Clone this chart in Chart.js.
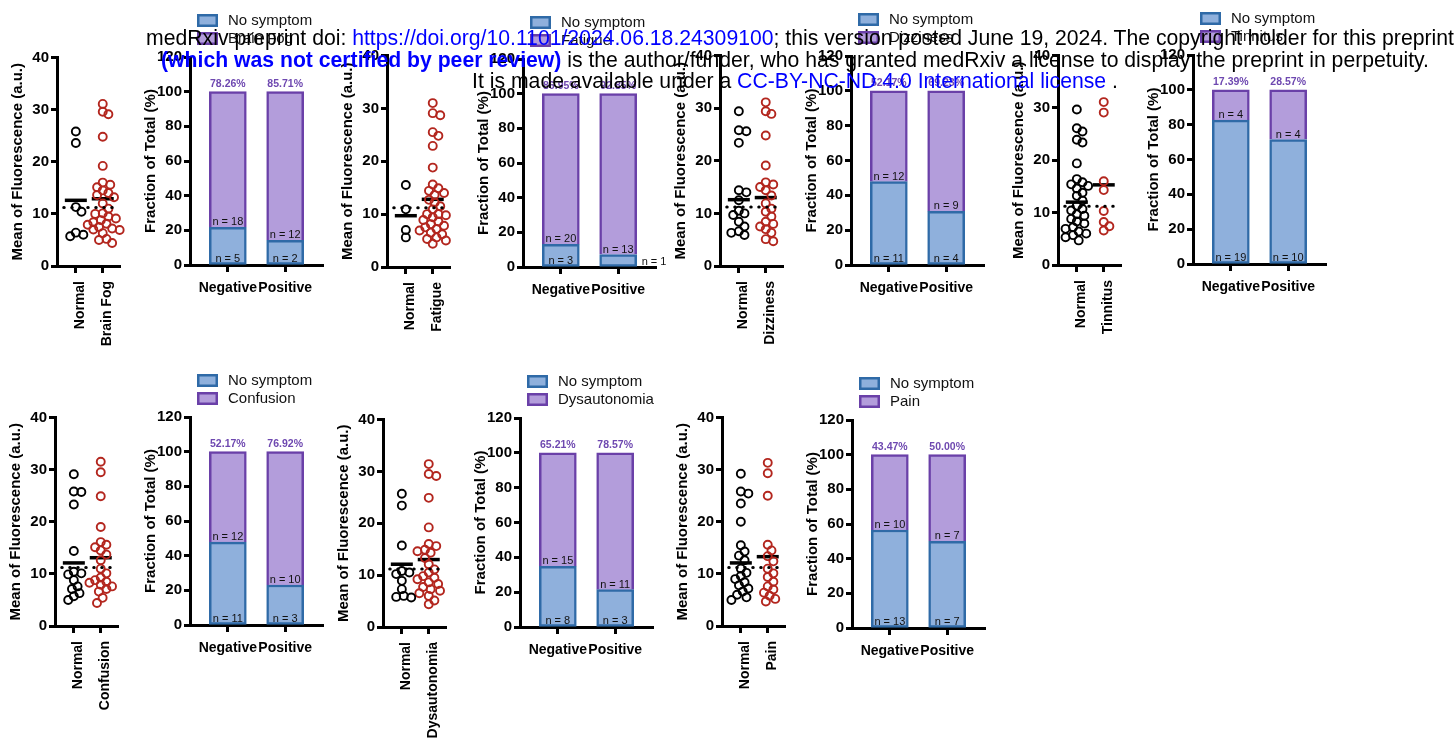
<!DOCTYPE html>
<html>
<head>
<meta charset="utf-8">
<script src="https://cdn.jsdelivr.net/npm/chart.js@4.4.0/dist/chart.umd.min.js"></script>
<style>
  body { margin: 0; background: #fff; width: 1456px; height: 751px; position: relative; overflow: hidden;
         font-family: 'Liberation Sans', Arial, sans-serif; }
  canvas { position: absolute; }
  .hdr { position: absolute; white-space: nowrap; font-size: 21.2px; color: #000; z-index: 5;
         transform: translateX(-50%); line-height: 22px; }
  .blue { color: #0000ff; }
</style>
</head>
<body>
<div class="hdr" style="left:800px;top:27px">medRxiv preprint doi: <span class="blue">https://doi.org/10.1101/2024.06.18.24309100</span>; this version posted June 19, 2024. The copyright holder for this preprint</div>
<div class="hdr" style="left:795px;top:49px"><b class="blue">(which was not certified by peer review)</b> is the author/funder, who has granted medRxiv a license to display the preprint in perpetuity.</div>
<div class="hdr" style="left:795px;top:70px">It is made available under a <span class="blue">CC-BY-NC-ND 4.0 International license</span> .</div>

<script>
// group names
var groupLabels = ['Negative', 'Positive'];
var referenceLevel = 11.2;

// Brain Fog
var brainFogNormal = [25.8, 23.6, 11.3, 10.4, 6.4, 6.0, 5.7];
var brainFogSymptom = [31.1, 29.6, 29.1, 24.8, 19.2, 16.0, 15.6, 15.1, 14.5, 14.0, 13.6, 13.2, 12.0, 11.0, 10.1,
                       10.0, 9.5, 9.1, 8.8, 8.4, 8.1, 7.9, 7.5, 7.2, 7.0, 6.9, 6.3, 5.2, 5.0, 4.4];
var brainFogMeans = [12.6, 12.9];
var brainFogNoSymN = [5, 2];
var brainFogSymN = [18, 12];
var brainFogPct = ['78.26%', '85.71%'];

// Fatigue
var fatigueNormal = [15.5, 10.9, 7.0, 5.6];
var fatigueSymptom = [31.0, 29.1, 28.7, 25.5, 24.8, 22.9, 18.8, 15.6, 14.9, 14.4, 14.0, 13.6, 12.7, 12.2, 11.5,
                      10.9, 10.0, 10.0, 9.8, 9.4, 8.9, 8.6, 8.1, 7.8, 7.5, 7.2, 6.9, 6.5, 6.2, 5.6, 5.3, 5.0, 4.4];
var fatigueMeans = [9.7, 12.8];
var fatigueNoSymN = [3, 1];
var fatigueSymN = [20, 13];
var fatiguePct = ['86.95%', '92.85%'];

// Dizziness
var dizzinessNormal = [29.4, 25.8, 25.6, 23.4, 14.4, 14.0, 12.5, 10.5, 10.0, 9.7, 8.4, 7.5, 6.6, 6.3, 5.9];
var dizzinessSymptom = [31.1, 29.4, 28.9, 24.8, 19.1, 15.9, 15.5, 15.0, 14.4, 13.4, 11.9, 10.9, 10.3, 9.4, 8.4,
                        8.0, 7.5, 7.0, 6.3, 5.1, 4.7];
var dizzinessMeans = [12.6, 13.0];
var dizzinessNoSymN = [11, 4];
var dizzinessSymN = [12, 9];
var dizzinessPct = ['52.17%', '69.23%'];

// Tinnitus
var tinnitusNormal = [29.7, 26.1, 25.5, 23.9, 23.4, 19.4, 16.4, 15.8, 15.4, 15.1, 14.6, 13.8, 13.2, 12.3, 11.3,
                      10.7, 10.4, 9.7, 9.4, 8.8, 8.3, 7.9, 7.2, 6.9, 6.4, 6.0, 5.7, 5.3, 4.7];
var tinnitusSymptom = [31.1, 29.1, 16.0, 14.3, 10.3, 8.2, 7.4, 6.6];
var tinnitusMeans = [12.0, 15.3];
var tinnitusNoSymN = [19, 10];
var tinnitusSymN = [4, 4];
var tinnitusPct = ['17.39%', '28.57%'];

// Confusion
var confusionNormal = [29.1, 25.8, 25.7, 23.3, 14.4, 10.4, 10.1, 9.9, 8.8, 7.6, 7.1, 6.3, 5.7, 5.0];
var confusionSymptom = [31.5, 29.5, 24.9, 19.0, 16.1, 15.6, 15.1, 14.5, 13.7, 12.6, 11.0, 10.1, 9.3, 8.8, 8.5,
                        8.3, 7.9, 7.6, 7.1, 6.6, 5.4, 4.4];
var confusionMeans = [12.1, 13.1];
var confusionNoSymN = [11, 3];
var confusionSymN = [12, 10];
var confusionPct = ['52.17%', '76.92%'];

// Dysautonomia
var dysautonomiaNormal = [25.7, 23.4, 15.7, 10.8, 10.5, 10.2, 8.9, 7.3, 6.0, 5.8, 5.7];
var dysautonomiaSymptom = [31.4, 29.5, 29.1, 24.9, 19.2, 16.0, 15.6, 14.9, 14.6, 14.3, 13.3, 12.1, 11.1, 10.5,
                           9.8, 9.5, 9.2, 8.6, 8.3, 7.7, 7.3, 7.0, 6.5, 6.0, 5.1, 4.4];
var dysautonomiaMeans = [12.1, 13.0];
var dysautonomiaNoSymN = [8, 3];
var dysautonomiaSymN = [15, 11];
var dysautonomiaPct = ['65.21%', '78.57%'];

// Pain
var painNormal = [29.2, 25.8, 25.4, 23.5, 20.0, 15.5, 14.3, 13.5, 12.6, 11.0, 10.2, 9.6, 9.0, 8.4, 7.8, 7.2,
                  6.6, 6.0, 5.5, 5.0];
var painSymptom = [31.3, 29.3, 25.0, 15.6, 14.5, 13.4, 12.4, 11.0, 10.1, 9.4, 8.5, 7.6, 7.0, 6.4, 5.8, 5.2, 4.7];
var painMeans = [12.1, 13.3];
var painNoSymN = [13, 7];
var painSymN = [10, 7];
var painPct = ['43.47%', '50.00%'];

var panels = [
  {name: 'Brain Fog', normal: brainFogNormal, sym: brainFogSymptom, means: brainFogMeans, noN: brainFogNoSymN, symN: brainFogSymN, pct: brainFogPct},
  {name: 'Fatigue', normal: fatigueNormal, sym: fatigueSymptom, means: fatigueMeans, noN: fatigueNoSymN, symN: fatigueSymN, pct: fatiguePct},
  {name: 'Dizziness', normal: dizzinessNormal, sym: dizzinessSymptom, means: dizzinessMeans, noN: dizzinessNoSymN, symN: dizzinessSymN, pct: dizzinessPct},
  {name: 'Tinnitus', normal: tinnitusNormal, sym: tinnitusSymptom, means: tinnitusMeans, noN: tinnitusNoSymN, symN: tinnitusSymN, pct: tinnitusPct},
  {name: 'Confusion', normal: confusionNormal, sym: confusionSymptom, means: confusionMeans, noN: confusionNoSymN, symN: confusionSymN, pct: confusionPct},
  {name: 'Dysautonomia', normal: dysautonomiaNormal, sym: dysautonomiaSymptom, means: dysautonomiaMeans, noN: dysautonomiaNoSymN, symN: dysautonomiaSymN, pct: dysautonomiaPct},
  {name: 'Pain', normal: painNormal, sym: painSymptom, means: painMeans, noN: painNoSymN, symN: painSymN, pct: painPct}
];

// where each pair of plots sits on the page (axis x, top/bottom pixel rows)
var layout = [
  {sx: 57, sTop: 55, sBot: 266, bx: 190, bBot: 265, b100: 92},
  {sx: 387, sTop: 53, sBot: 267, bx: 523, bBot: 267, b100: 94},
  {sx: 720, sTop: 53, sBot: 266, bx: 851, bBot: 265, b100: 91},
  {sx: 1058, sTop: 53, sBot: 265, bx: 1193, bBot: 264, b100: 90},
  {sx: 55, sTop: 415, sBot: 626, bx: 190, bBot: 625, b100: 452},
  {sx: 383, sTop: 417, sBot: 627, bx: 520, bBot: 627, b100: 453},
  {sx: 722, sTop: 415, sBot: 626, bx: 852, bBot: 628, b100: 455}
];

var FONT = "'Liberation Sans', Arial, sans-serif";
Chart.defaults.font.family = FONT;
Chart.defaults.color = '#000';

var blueFill = '#8FB0DC', blueLine = '#2F6AA7';
var purpleFill = '#B39DDB', purpleLine = '#6A40A8';
var red = '#B3261E';

function makeCanvas(left, top, w, h) {
  var c = document.createElement('canvas');
  c.width = w; c.height = h;
  c.style.left = left + 'px'; c.style.top = top + 'px';
  c.style.width = w + 'px'; c.style.height = h + 'px';
  document.body.appendChild(c);
  return c;
}

// spread points sideways so circles don't sit on top of each other
function swarm(vals, center, unit, yPx) {
  var placed = [];
  var step = 2.2, minD = 7.0;
  return vals.slice().sort(function(a, b) { return b - a; }).map(function(v) {
    var py = v * yPx;
    for (var k = 0; k < 40; k++) {
      var off = (k % 2 ? 1 : -1) * Math.ceil(k / 2) * step;
      var ok = placed.every(function(p) { return Math.hypot(p.x - off, p.y - py) >= minD; });
      if (ok) { placed.push({x: off, y: py}); return {x: center + off / unit, y: v}; }
    }
    return {x: center, y: v};
  });
}

function axisGrid(len) {
  return {display: true, drawOnChartArea: false, drawTicks: true, tickLength: len, tickWidth: 3, tickColor: '#000'};
}
var axisBorder = {display: true, color: '#000', width: 3};

function scatterPlot(p, pos) {
  var unit = 31.5, xMin = 0.3, xMax = 2.66;
  var YW = 48, PT = 12, PR = 4, XH = 130;
  var yPx = (pos.sBot - pos.sTop) / 40;
  var w = YW + Math.round((xMax - xMin) * unit) + PR;
  var h = PT + (pos.sBot - pos.sTop) + XH;
  var c = makeCanvas(pos.sx - YW, pos.sTop - PT, w, h);
  var cats = ['Normal', p.name];

  new Chart(c.getContext('2d'), {
    type: 'scatter',
    data: {
      datasets: [
        {type: 'line', data: [{x: xMin + 0.25, y: referenceLevel}, {x: xMax - 0.04, y: referenceLevel}],
         borderColor: '#000', borderWidth: 3, borderDash: [0.5, 7.5], borderCapStyle: 'round', pointRadius: 0, fill: false},
        {data: swarm(p.normal, 1, unit, yPx), pointRadius: 4, borderWidth: 1.9, borderColor: '#000',
         backgroundColor: 'rgba(255,255,255,0)', clip: false},
        {data: swarm(p.sym, 2, unit, yPx), pointRadius: 4, borderWidth: 1.9, borderColor: red,
         backgroundColor: 'rgba(255,255,255,0)', clip: false},
        {data: p.means.map(function(m, i) { return {x: i + 1, y: m}; }), pointStyle: 'line', pointRadius: 11,
         borderWidth: 3.5, borderColor: '#000', clip: false}
      ]
    },
    options: {
      responsive: false, animation: false, events: [],
      layout: {padding: {top: PT, right: PR, left: 0, bottom: 0}},
      plugins: {legend: {display: false}, tooltip: {enabled: false}},
      scales: {
        x: {
          type: 'linear', min: xMin, max: xMax,
          afterBuildTicks: function(s) { s.ticks = [{value: 1}, {value: 2}]; },
          afterFit: function(s) { s.height = XH; },
          ticks: {callback: function(v) { return cats[Math.round(v) - 1]; }, minRotation: 90, maxRotation: 90,
                  font: {weight: 'bold', size: 14}, color: '#000', padding: 8, autoSkip: false, labelOffset: 4},
          grid: axisGrid(7), border: axisBorder
        },
        y: {
          min: 0, max: 40,
          afterFit: function(s) { s.width = YW; },
          ticks: {stepSize: 10, font: {weight: 'bold', size: 15}, color: '#000', padding: 2},
          title: {display: true, text: 'Mean of Fluorescence (a.u.)', font: {weight: 'bold', size: 15}, color: '#000',
                  padding: {top: 0, bottom: 0}},
          grid: axisGrid(6), border: axisBorder
        }
      }
    }
  });
}

var barDecor = {
  id: 'barDecor',
  afterDatasetsDraw: function(chart, args, opts) {
    var ctx = chart.ctx;
    var m0 = chart.getDatasetMeta(0), m1 = chart.getDatasetMeta(1);
    var yZero = chart.scales.y.getPixelForValue(0);
    ctx.save();
    m0.data.forEach(function(bar, i) {
      var top = m1.data[i];
      ctx.font = '11px ' + FONT;
      ctx.fillStyle = '#111';
      ctx.textBaseline = 'alphabetic';
      var hgt = yZero - bar.y;
      if (hgt >= 16) {
        ctx.textAlign = 'center';
        ctx.fillText('n = ' + opts.noN[i], bar.x, yZero - 3);
      } else {
        ctx.textAlign = 'left';
        ctx.fillText('n = ' + opts.noN[i], bar.x + bar.width / 2 + 5, yZero - 2);
      }
      ctx.textAlign = 'center';
      ctx.fillText('n = ' + opts.symN[i], bar.x, bar.y - 2);
      ctx.font = 'bold 10.5px ' + FONT;
      ctx.fillStyle = '#6E48B0';
      ctx.fillText(opts.pct[i], bar.x, top.y - 5);
    });
    // legend
    var lx = chart.chartArea.left + 7, ly = chart.chartArea.top - 43;
    chart.data.datasets.forEach(function(ds, k) {
      var y = ly + k * 18;
      ctx.fillStyle = ds.backgroundColor;
      ctx.fillRect(lx, y, 21, 13);
      ctx.lineWidth = 2.5;
      ctx.strokeStyle = ds.borderColor;
      ctx.strokeRect(lx + 1.25, y + 1.25, 18.5, 10.5);
      ctx.fillStyle = '#111';
      ctx.font = '15px ' + FONT;
      ctx.textAlign = 'left';
      ctx.textBaseline = 'middle';
      ctx.fillText(ds.label, lx + 31, y + 7);
    });
    ctx.restore();
  }
};

function barPlot(p, pos) {
  var unit = 57.5, xMin = 0.34, xMax = 2.66;
  var YW = 48, PT = 50, PR = 30, XH = 40;
  var y120 = pos.bBot - 1.2 * (pos.bBot - pos.b100);
  var w = YW + Math.round((xMax - xMin) * unit) + PR;
  var h = Math.round(PT + (pos.bBot - y120) + XH);
  var c = makeCanvas(pos.bx - YW, Math.round(y120 - PT), w, h);
  var noPct = p.noN.map(function(n, i) { return {x: i + 1, y: 100 * n / (n + p.symN[i])}; });
  var symPct = p.symN.map(function(n, i) { return {x: i + 1, y: 100 * n / (n + p.noN[i])}; });

  new Chart(c.getContext('2d'), {
    type: 'bar',
    data: {
      datasets: [
        {label: 'No symptom', data: noPct, backgroundColor: blueFill, borderColor: blueLine, borderWidth: 2.5,
         borderSkipped: false, barThickness: 37},
        {label: p.name, data: symPct, backgroundColor: purpleFill, borderColor: purpleLine, borderWidth: 2.5,
         borderSkipped: 'bottom', barThickness: 37}
      ]
    },
    plugins: [barDecor],
    options: {
      responsive: false, animation: false, events: [],
      layout: {padding: {top: PT, right: PR, left: 0, bottom: 0}},
      plugins: {legend: {display: false}, tooltip: {enabled: false},
                barDecor: {noN: p.noN, symN: p.symN, pct: p.pct}},
      scales: {
        x: {
          type: 'linear', min: xMin, max: xMax, stacked: true, offset: false,
          afterBuildTicks: function(s) { s.ticks = [{value: 1}, {value: 2}]; },
          afterFit: function(s) { s.height = XH; },
          ticks: {callback: function(v) { return groupLabels[Math.round(v) - 1]; }, maxRotation: 0, minRotation: 0,
                  font: {weight: 'bold', size: 14}, color: '#000', padding: 8, autoSkip: false},
          grid: Object.assign(axisGrid(7), {offset: false}), border: axisBorder
        },
        y: {
          min: 0, max: 120, stacked: true,
          afterFit: function(s) { s.width = YW; },
          ticks: {stepSize: 20, font: {weight: 'bold', size: 15}, color: '#000', padding: 2},
          title: {display: true, text: 'Fraction of Total (%)', font: {weight: 'bold', size: 15}, color: '#000',
                  padding: {top: 0, bottom: 0}},
          grid: axisGrid(6), border: axisBorder
        }
      }
    }
  });
}

panels.forEach(function(p, i) {
  scatterPlot(p, layout[i]);
  barPlot(p, layout[i]);
});
</script>
</body>
</html>
